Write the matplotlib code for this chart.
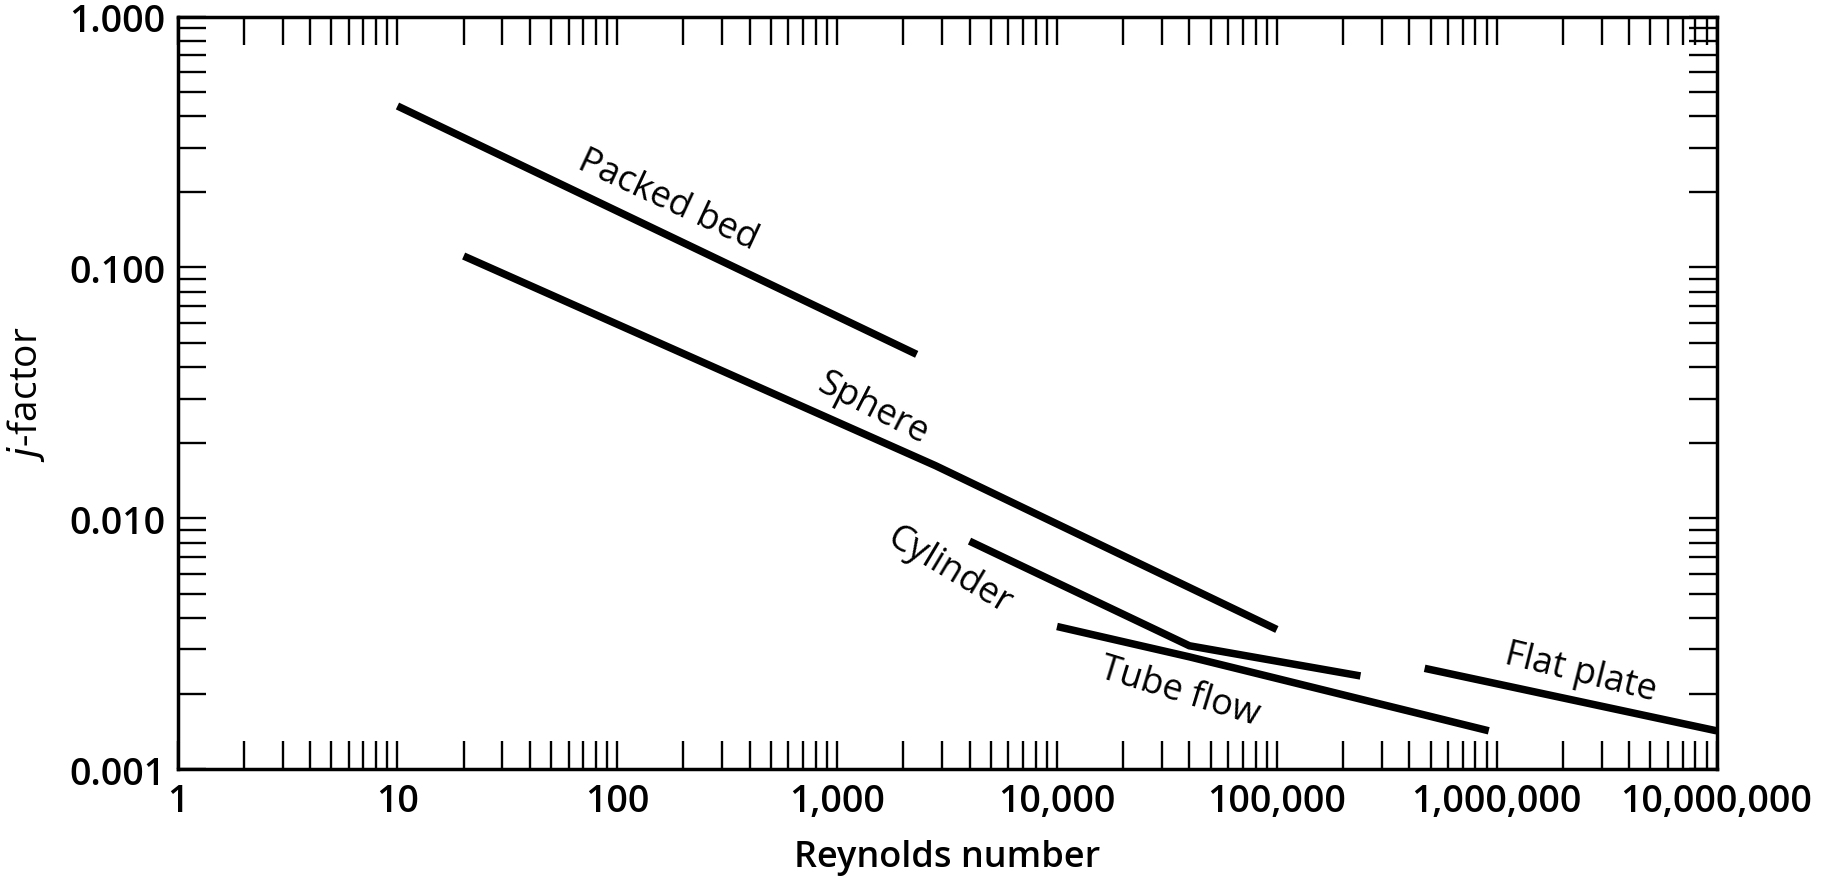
import matplotlib
matplotlib.use("Agg")
import matplotlib.pyplot as plt
from matplotlib.ticker import FixedLocator, NullFormatter

plt.rcParams["font.family"] = ["Open Sans", "DejaVu Sans"]

# correlations (Reynolds number, j-factor)
packed_re = [10, 2300]
packed_j = [0.44, 0.045]

sphere_re = [20, 2800, 100000]
sphere_j = [0.111, 0.0162, 0.0036]

cylinder_re = [4000, 40000, 240000]
cylinder_j = [0.0081, 0.0031, 0.00235]

tube_re = [10000, 40000, 920000]
tube_j = [0.0037, 0.0028, 0.00142]

plate_re = [470000, 10000000]
plate_j = [0.00252, 0.00142]

x_decades = [1, 10, 100, 1000, 10000, 100000, 1000000, 10000000]
x_labels = ["1", "10", "100", "1,000", "10,000", "100,000", "1,000,000", "10,000,000"]
y_decades = [0.001, 0.01, 0.1, 1.0]
y_labels = ["0.001", "0.010", "0.100", "1.000"]

fig = plt.figure(figsize=(18.31, 8.79), dpi=100)
ax = fig.add_axes([0.097, 0.124, 0.8405, 0.856])

lw = 5.4
for re, j in [(packed_re, packed_j), (sphere_re, sphere_j), (cylinder_re, cylinder_j),
              (tube_re, tube_j), (plate_re, plate_j)]:
    ax.plot(re, j, color="black", lw=lw, solid_capstyle="butt", solid_joinstyle="miter")

ax.set_xscale("log")
ax.set_yscale("log")
ax.set_xlim(1, 1e7)
ax.set_ylim(0.001, 1)

# minor ticks 2..9 in each decade
xminor = [m * d for d in x_decades[:-1] for m in range(2, 10)]
yminor = [m * d for d in y_decades[:-1] for m in range(2, 10)]
ax.xaxis.set_major_locator(FixedLocator(x_decades))
ax.xaxis.set_minor_locator(FixedLocator(xminor))
ax.yaxis.set_major_locator(FixedLocator(y_decades))
ax.yaxis.set_minor_locator(FixedLocator(yminor))
ax.set_xticklabels(x_labels)
ax.set_yticklabels(y_labels)
ax.xaxis.set_minor_formatter(NullFormatter())
ax.yaxis.set_minor_formatter(NullFormatter())

ax.tick_params(which="both", direction="in", top=True, right=True,
               length=20, width=1.7, color="black")
ax.tick_params(which="major", labelsize=27, pad=9)
for lab in ax.get_xticklabels() + ax.get_yticklabels():
    lab.set_fontweight("semibold")

for s in ax.spines.values():
    s.set_linewidth(2.5)

ax.set_xlabel("Reynolds number", fontsize=26, fontweight="semibold", labelpad=14)
ax.set_ylabel(r"$\it{j}$-factor", fontsize=28, fontweight="medium", labelpad=16)

lbl = dict(fontsize=26, fontweight="medium", ha="center", va="center")
ax.text(170, 0.185, "Packed bed", rotation=-25, **lbl)
ax.text(1450, 0.0275, "Sphere", rotation=-27, **lbl)
ax.text(3250, 0.0062, "Cylinder", rotation=-31, **lbl)
ax.text(36000, 0.00203, "Tube flow", rotation=-17, **lbl)
ax.text(2400000, 0.00243, "Flat plate", rotation=-14, **lbl)

fig.savefig("out.png", dpi=100)
